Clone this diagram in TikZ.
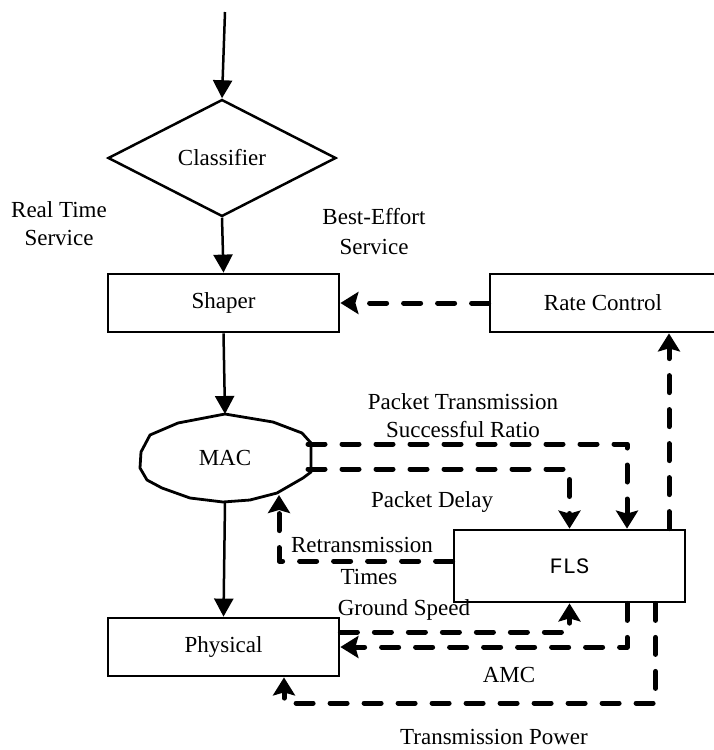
\documentclass[tikz,border=0pt]{standalone}
\usepackage{fontspec}
\setmainfont{Liberation Serif}
\setmonofont{Liberation Mono}
\usetikzlibrary{shapes.geometric,arrows.meta,calc}
\begin{document}
\begin{tikzpicture}[x=1pt,y=-1pt,
  every node/.style={font=\fontsize{23}{28}\selectfont, inner sep=0pt},
  block/.style={draw, line width=2.8pt, minimum width=231pt, minimum height=58pt},
  flow/.style={line width=2.5pt, -{Triangle[length=18pt,width=19pt]}},
  feedback/.style={line width=5pt, dash pattern=on 17pt off 17pt, line cap=round, line join=round,
    -{Stealth[length=18pt,width=22pt,inset=3pt]}},
  lbl/.style={align=center}]
\useasboundingbox (0,0) rectangle (713,750);

% blocks
\node[diamond, draw, line width=2.5pt, minimum width=228pt, minimum height=117pt] (cls) at (222,158) {Classifier};
\node[block] (shp) at (223.5,303) {Shaper};
\node[block, minimum width=226pt] (rc) at (603,303) {Rate Control\hspace{14pt}};
\node[ellipse, minimum width=172pt, minimum height=88pt] (mac) at (225,458) {MAC};
\draw[line width=2.8pt, line join=round, shift={(mac.center)}]
  (0,-44) -- (48,-36) -- (77,-25) -- (86,-15) -- (86,14) -- (78,20) -- (52,35)
  -- (25,42) -- (-2,44) -- (-35,40) -- (-63,30) -- (-78,22) -- (-85,10)
  -- (-84,-6) -- (-75,-23) -- (-47,-35) -- cycle;
\node[block, minimum height=72pt] (fls) at (569.5,566) {\fontsize{22}{26}\selectfont\ttfamily FLS};
\node[block] (phy) at (223.5,647) {Physical};

% anchor points on the MAC outline
\coordinate (macTop) at (225,414);
\coordinate (macBot) at (225,502);
\coordinate (macR1) at (308,444);
\coordinate (macR2) at (308,469);
\coordinate (macRet) at (279,495);
\coordinate (src) at (225,12);
\coordinate (tpc) at (284,703);

% main data path
\draw[flow] (src) -- (cls.north);
\draw[flow] (cls.south) -- (shp.north);
\draw[flow] (shp.south) -- (macTop);
\draw[flow] (macBot) -- (phy.north);

% feedback loops through the fuzzy logic system
\draw[feedback] (rc.west) -- (shp.east);
\draw[feedback] (macR1) -| ([xshift=57.5pt]fls.north);
\draw[feedback] (macR2) -| (fls.north);
\draw[feedback] ([yshift=5pt]fls.west) -| (macRet);
\draw[feedback] ([xshift=99.5pt]fls.north) -- ([xshift=99.5pt]fls.north |- rc.south);
\draw[feedback] ([yshift=15pt]phy.east) -| (fls.south);
\draw[feedback] ([xshift=57.5pt]fls.south) |- (phy.east);
\draw[feedback] ([xshift=86pt]fls.south) |- (tpc) -- ([xshift=60.5pt]phy.south);

% labels
\node[lbl] (lrt) at (59,224) {Real Time\\Service};
\node[lbl, font=\fontsize{23}{30}\selectfont] (lbe) at (374,232) {Best-Effort\\Service};
\node[lbl] (lptsr) at (463,416) {Packet Transmission\\Successful Ratio};
\node (lpd) at (432,502) {Packet Delay};
\node (lret) at (362,545) {Retransmission};
\node (ltim) at (369,577) {Times};
\node (lgs) at (404,610) {Ground Speed};
\node (lamc) at (509,675) {AMC};
\node (ltp) at (494,737) {Transmission Power};
\end{tikzpicture}
\end{document}
